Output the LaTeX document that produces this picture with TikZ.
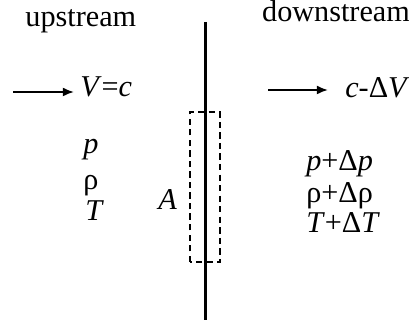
\documentclass[tikz,border=0pt]{standalone}
\usepackage{fontspec}
\setmainfont{Liberation Serif}
\usetikzlibrary{arrows.meta}

\tikzset{
	lbl/.style={inner sep=0pt, anchor=base west, font=\fontsize{21.5}{25}\selectfont},
	flow/.style={line width=1.4pt, -{Latex[length=8pt,width=6.5pt]}}
}

\begin{document}
\begin{tikzpicture}
	\useasboundingbox (0,0) rectangle (10.225,8.125);
	\draw[line width=2.2pt] (5.1375,7.575) -- (5.1375,0.125);
	\draw[dash pattern=on 4.5pt off 3pt, line width=0.8pt] (4.75,1.575) rectangle (5.5,5.325);
	
	\node[lbl, anchor=base] (up) at (2.02,7.45) {upstream};
	\node[lbl, anchor=base] (down) at (8.4,7.575) {downstream};
	
	\coordinate (inA) at (0.325,5.825);
	\coordinate (inB) at (1.85,5.825);
	\coordinate (outA) at (6.7,5.875);
	\coordinate (outB) at (8.2,5.875);
	\draw[flow] (inA) -- (inB);
	\draw[flow] (outA) -- (outB);
	\node[lbl] (vin) at (2.0,5.7) {\textit{V}=\textit{c}};
	\node[lbl] (vout) at (8.625,5.675) {\textit{c}-Δ\textit{V}};
	
	\node[lbl] (p1) at (2.075,4.275) {\textit{p}};
	\node[lbl] (rho1) at (2.075,3.375) {ρ};
	\node[lbl] (T1) at (2.125,2.6) {\textit{T}};
	\node[lbl] (area) at (3.95,2.875) {\textit{A}};
	
	\node[lbl] (p2) at (7.65,3.85) {\textit{p}+Δ\textit{p}};
	\node[lbl] (rho2) at (7.65,3.06) {ρ+Δρ};
	\node[lbl] (T2) at (7.65,2.31) {\textit{T}+Δ\textit{T}};
\end{tikzpicture}
\end{document}
